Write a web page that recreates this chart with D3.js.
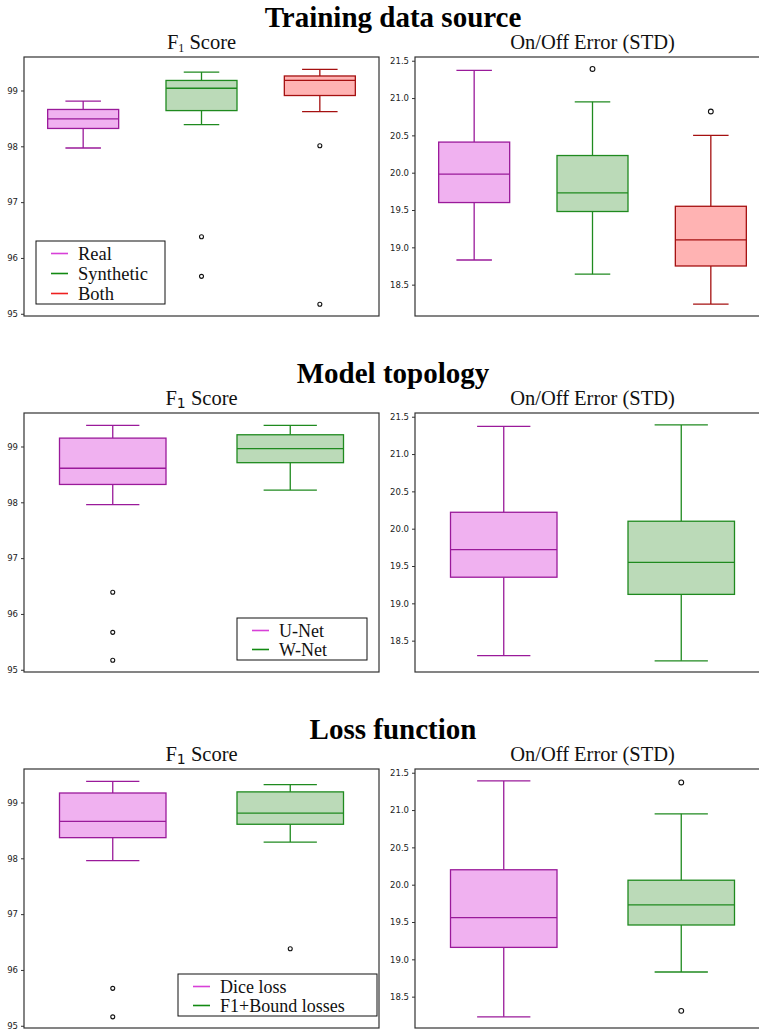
<!DOCTYPE html>
<html>
<head>
<meta charset="utf-8">
<script src="https://cdn.jsdelivr.net/npm/d3@7"></script>
<style>
  body { margin: 0; background: #fff; }
  .tick text { font-family: "DejaVu Sans", sans-serif; font-size: 8.5px; fill: #222; }
</style>
</head>
<body>
<div id="chart"></div>
<script>
// box stats: [lower whisker, Q1, median, Q3, upper whisker]
var sourceLabels = ["Real", "Synthetic", "Both"];
var sourceF1 = [
    [97.97, 98.32, 98.49, 98.66, 98.81],
    [98.39, 98.64, 99.04, 99.18, 99.33],
    [98.62, 98.91, 99.18, 99.26, 99.38]
];
var sourceF1Outliers = [[], [96.38, 95.67], [98.01, 95.17]];
var sourceErr = [
    [18.83, 19.60, 19.98, 20.41, 21.37],
    [18.64, 19.48, 19.73, 20.23, 20.95],
    [18.24, 18.75, 19.10, 19.55, 20.50]
];
var sourceErrOutliers = [[], [21.39], [20.82]];

var topoLabels = ["U-Net", "W-Net"];
var topoF1 = [
    [97.96, 98.32, 98.61, 99.15, 99.38],
    [98.22, 98.71, 98.96, 99.21, 99.38]
];
var topoF1Outliers = [[96.39, 95.67, 95.17], []];
var topoErr = [
    [18.30, 19.35, 19.72, 20.22, 21.37],
    [18.23, 19.12, 19.55, 20.10, 21.39]
];
var topoErrOutliers = [[], []];

var lossLabels = ["Dice loss", "F1+Bound losses"];
var lossF1 = [
    [97.96, 98.37, 98.66, 99.17, 99.38],
    [98.29, 98.61, 98.81, 99.19, 99.32]
];
var lossF1Outliers = [[95.67, 95.16], [96.38]];
var lossErr = [
    [18.23, 19.16, 19.56, 20.20, 21.39],
    [18.83, 19.46, 19.73, 20.06, 20.95]
];
var lossErrOutliers = [[], [21.37, 18.31]];

var f1Ticks = [95, 96, 97, 98, 99];
var errTicks = [18.5, 19.0, 19.5, 20.0, 20.5, 21.0, 21.5];

// styles per group (purple, green, red)
var fills = ["#f0b1f0", "#bbdab8", "#ffb3b3"];
var strokes = ["#9a1a9a", "#1f8a1f", "#a51010"];
var legendColors = ["#d840d8", "#128a12", "#ee2020"];

var svgWidth = 759;
var svgHeight = 1031;

var svg = d3.select("#chart")
    .append("svg")
    .attr("width", svgWidth)
    .attr("height", svgHeight);

var panelH = 259;
var leftX = [24, 379];
var rightX = [415, 770];
var titleCx = 393;
var serif = "Liberation Serif, Times New Roman, serif";

var rows = [
    { title: "Training data source", top: 57, labels: sourceLabels,
      f1: sourceF1, f1Out: sourceF1Outliers, err: sourceErr, errOut: sourceErrOutliers,
      mathSub: false, legend: { x: 36, y: 241, w: 129, h: 63, gap: 20, fs: 18.5 } },
    { title: "Model topology", top: 413, labels: topoLabels,
      f1: topoF1, f1Out: topoF1Outliers, err: topoErr, errOut: topoErrOutliers,
      mathSub: true, legend: { x: 237, y: 618, w: 130, h: 42, gap: 19, fs: 18 } },
    { title: "Loss function", top: 769, labels: lossLabels,
      f1: lossF1, f1Out: lossF1Outliers, err: lossErr, errOut: lossErrOutliers,
      mathSub: true, legend: { x: 178, y: 974, w: 199, h: 42, gap: 19, fs: 18 } }
];

function drawPanel(g, xr, top, stats, outliers, domain, ticks, fmt, rOut) {
    var n = stats.length;
    var x = d3.scaleLinear().domain([0.5, n + 0.5]).range(xr);
    var y = d3.scaleLinear().domain(domain).range([top + panelH, top]);
    var bw = x(1.3) - x(1);

    // frame
    g.append("rect")
        .attr("x", xr[0]).attr("y", top)
        .attr("width", xr[1] - xr[0]).attr("height", panelH)
        .attr("fill", "none").attr("stroke", "#333").attr("stroke-width", 1.2);

    g.append("g")
        .attr("transform", `translate(${xr[0]},0)`)
        .call(d3.axisLeft(y).tickValues(ticks).tickSize(3).tickFormat(d3.format(fmt)))
        .call(a => a.select(".domain").remove())
        .call(a => a.selectAll("line").attr("stroke", "#333"));

    var boxes = g.selectAll(null)
        .data(stats)
        .enter()
        .append("g");

    boxes.each(function (d, i) {
        var b = d3.select(this);
        var cx = x(i + 1);
        var col = strokes[i];
        // whiskers
        b.append("line").attr("x1", cx).attr("x2", cx)
            .attr("y1", y(d[0])).attr("y2", y(d[1]))
            .attr("stroke", col).attr("stroke-width", 1.3);
        b.append("line").attr("x1", cx).attr("x2", cx)
            .attr("y1", y(d[3])).attr("y2", y(d[4]))
            .attr("stroke", col).attr("stroke-width", 1.3);
        // caps
        [d[0], d[4]].forEach(function (v) {
            b.append("line")
                .attr("x1", cx - bw / 2).attr("x2", cx + bw / 2)
                .attr("y1", y(v)).attr("y2", y(v))
                .attr("stroke", col).attr("stroke-width", 1.3);
        });
        // box
        b.append("rect")
            .attr("x", cx - bw).attr("width", bw * 2)
            .attr("y", y(d[3])).attr("height", y(d[1]) - y(d[3]))
            .attr("fill", fills[i]).attr("stroke", col).attr("stroke-width", 1.3);
        // median
        b.append("line")
            .attr("x1", cx - bw).attr("x2", cx + bw)
            .attr("y1", y(d[2])).attr("y2", y(d[2]))
            .attr("stroke", col).attr("stroke-width", 1.3);
        // outliers
        b.selectAll("circle")
            .data(outliers[i])
            .enter()
            .append("circle")
            .attr("cx", cx)
            .attr("cy", v => y(v))
            .attr("r", rOut)
            .attr("fill", "#fff")
            .attr("stroke", "#111")
            .attr("stroke-width", 1.1);
    });
}

function subTitle(cx, baseline, mathSub) {
    var t = svg.append("text")
        .attr("x", cx).attr("y", baseline)
        .attr("text-anchor", "middle")
        .attr("font-family", serif)
        .attr("font-size", 20.5)
        .attr("fill", "#111");
    t.append("tspan").text("F");
    if (mathSub) {
        t.append("tspan").attr("dy", 3)
            .attr("font-family", "DejaVu Sans, sans-serif")
            .attr("font-size", 14).text("1");
    } else {
        t.append("tspan").attr("dy", 3).attr("font-size", 12).text("1");
    }
    t.append("tspan").attr("dy", -3).text(" Score");
}

rows.forEach(function (row) {
    var top = row.top;

    svg.append("text")
        .attr("x", titleCx).attr("y", top - 30)
        .attr("text-anchor", "middle")
        .attr("font-family", serif)
        .attr("font-weight", "bold")
        .attr("font-size", 29)
        .text(row.title);

    subTitle((leftX[0] + leftX[1]) / 2, top - 8, row.mathSub);

    svg.append("text")
        .attr("x", (rightX[0] + rightX[1]) / 2).attr("y", top - 8)
        .attr("text-anchor", "middle")
        .attr("font-family", serif)
        .attr("font-size", 20.5)
        .attr("fill", "#111")
        .text("On/Off Error (STD)");

    var gl = svg.append("g");
    drawPanel(gl, leftX, top, row.f1, row.f1Out, [94.96, 99.6], f1Ticks, "d", 2);
    var gr = svg.append("g");
    drawPanel(gr, rightX, top, row.err, row.errOut, [18.08, 21.55], errTicks, ".1f", 2.4);

    // legend
    var L = row.legend;
    var lg = svg.append("g");
    lg.append("rect")
        .attr("x", L.x).attr("y", L.y).attr("width", L.w).attr("height", L.h)
        .attr("fill", "#fff").attr("stroke", "#111").attr("stroke-width", 1);
    var items = lg.selectAll(null)
        .data(row.labels)
        .enter()
        .append("g")
        .attr("transform", (d, i) => `translate(${L.x + 15},${L.y + 12.5 + i * L.gap})`);
    items.append("line")
        .attr("x1", 0).attr("x2", 17)
        .attr("stroke", (d, i) => legendColors[i])
        .attr("stroke-width", 1.6);
    items.append("text")
        .attr("x", 27).attr("y", 6)
        .attr("font-family", serif)
        .attr("font-size", L.fs)
        .attr("fill", "#111")
        .text(d => d);
});
</script>
</body>
</html>
